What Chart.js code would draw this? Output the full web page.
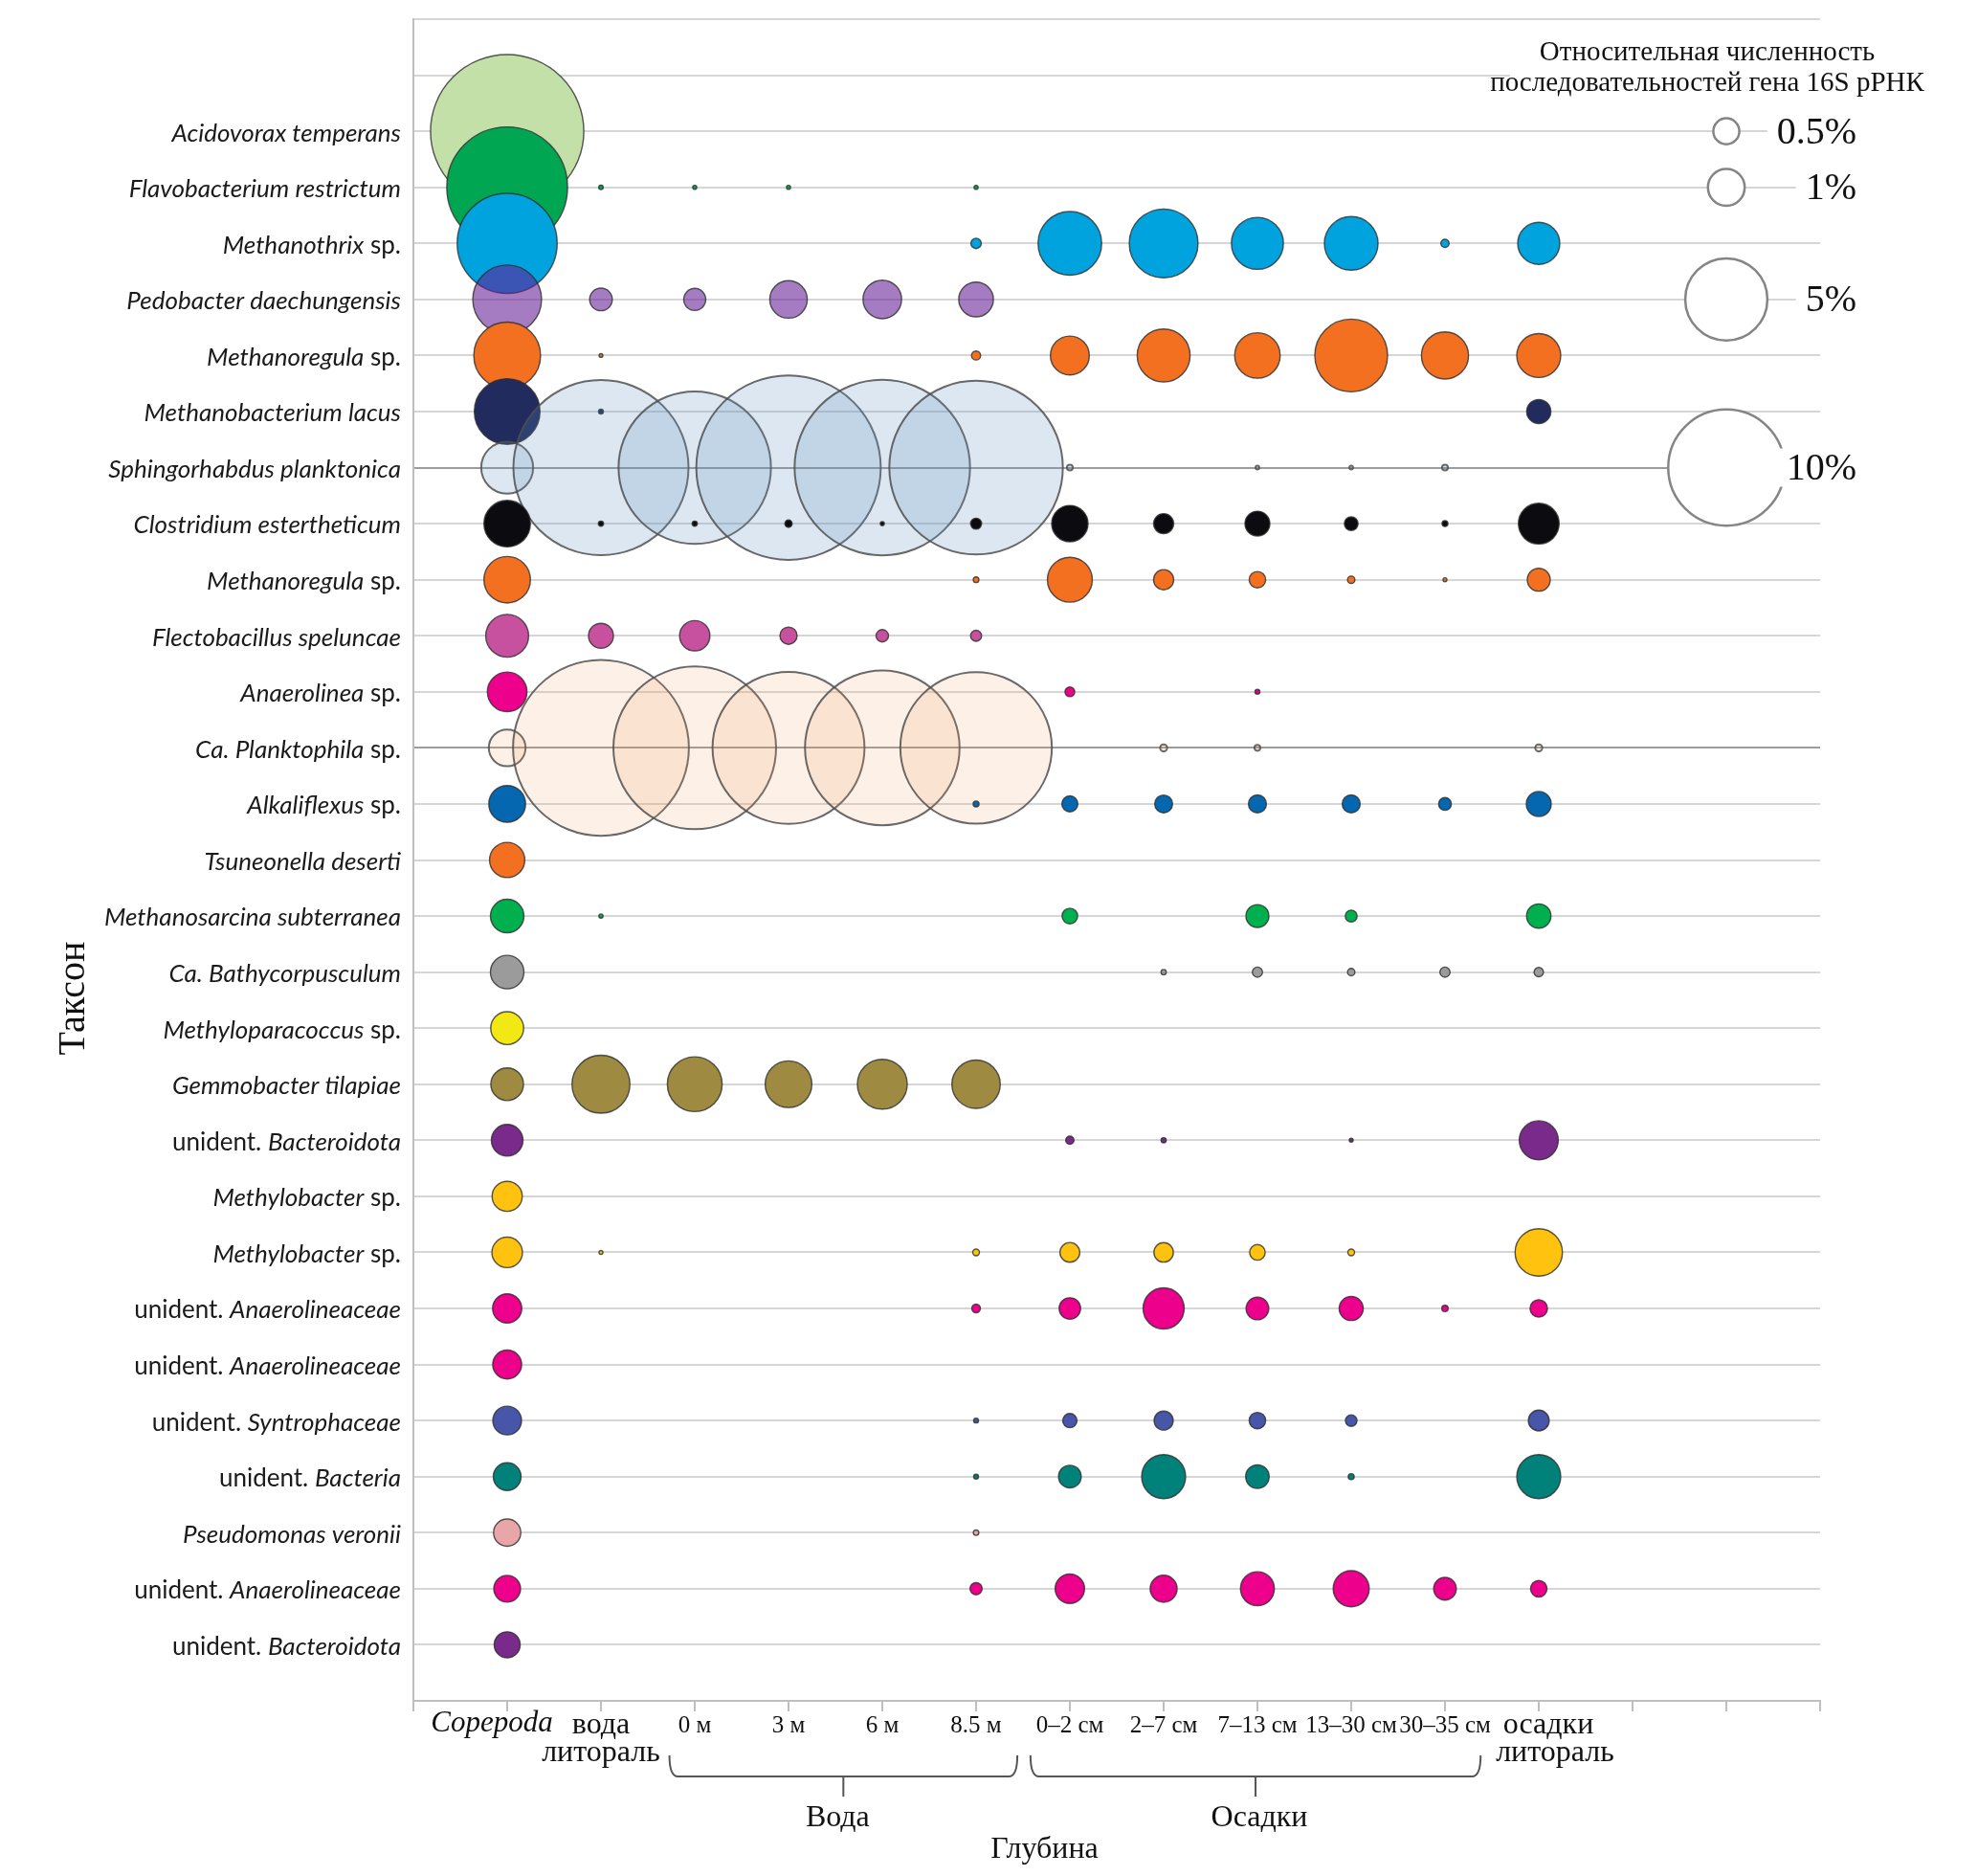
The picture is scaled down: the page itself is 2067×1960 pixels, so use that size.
<!DOCTYPE html>
<html><head><meta charset="utf-8">
<script src="https://cdn.jsdelivr.net/npm/chart.js@4.4.1/dist/chart.umd.min.js"></script>
<style>html,body{margin:0;padding:0;background:#fff}canvas{display:block}</style>
</head><body>
<canvas id="c" width="2067" height="1960" style="width:2067px;height:1960px"></canvas>
<script>
// ---------- DATA ----------
const columns = ['Copepoda', 'вода литораль', '0 м', '3 м', '6 м', '8.5 м',
  '0–2 см', '2–7 см', '7–13 см', '13–30 см', '30–35 см', 'осадки литораль'];

const taxa = [
  'Acidovorax temperans', 'Flavobacterium restrictum', 'Methanothrix sp.', 'Pedobacter daechungensis',
  'Methanoregula sp.', 'Methanobacterium lacus', 'Sphingorhabdus planktonica', 'Clostridium estertheticum',
  'Methanoregula sp.', 'Flectobacillus speluncae', 'Anaerolinea sp.', 'Ca. Planktophila sp.',
  'Alkaliflexus sp.', 'Tsuneonella deserti', 'Methanosarcina subterranea', 'Ca. Bathycorpusculum',
  'Methyloparacoccus sp.', 'Gemmobacter tilapiae', 'unident. Bacteroidota', 'Methylobacter sp.',
  'Methylobacter sp.', 'unident. Anaerolineaceae', 'unident. Anaerolineaceae', 'unident. Syntrophaceae',
  'unident. Bacteria', 'Pseudomonas veronii', 'unident. Anaerolineaceae', 'unident. Bacteroidota'
];

// relative abundance, % (columns in the order above; 0 = absent)
const acidovoraxTemperans      = [17.4, 0, 0, 0, 0, 0, 0, 0, 0, 0, 0, 0];
const flavobacteriumRestrictum = [10.8, 0.015, 0.012, 0.012, 0, 0.012, 0, 0, 0, 0, 0, 0];
const methanothrix             = [7.4, 0, 0, 0, 0, 0.08, 3.0, 3.5, 2.0, 2.13, 0.05, 1.31];
const pedobacterDaechungensis  = [3.5, 0.38, 0.36, 1.04, 1.1, 0.89, 0, 0, 0, 0, 0, 0];
const methanoregulaA           = [3.3, 0.01, 0, 0, 0, 0.06, 1.12, 2.07, 1.53, 3.92, 1.64, 1.43];
const methanobacteriumLacus    = [3.2, 0.017, 0, 0, 0, 0, 0, 0, 0, 0, 0, 0.43];
const sphingorhabdusPlanktonica= [2.0, 22.7, 17.2, 25.2, 22.8, 22.3, 0.025, 0, 0.01, 0.01, 0.025, 0];
const clostridiumEstertheticum = [1.6, 0.02, 0.02, 0.04, 0.012, 0.09, 0.98, 0.30, 0.46, 0.14, 0.025, 1.23];
const methanoregulaB           = [1.6, 0, 0, 0, 0, 0.023, 1.49, 0.30, 0.20, 0.04, 0.011, 0.39];
const flectobacillusSpeluncae  = [1.36, 0.46, 0.68, 0.22, 0.115, 0.09, 0, 0, 0, 0, 0, 0];
const anaerolinea              = [1.16, 0, 0, 0, 0, 0, 0.07, 0, 0.017, 0, 0, 0];
const planktophila             = [1.0, 22.9, 19.6, 17.1, 17.7, 17.0, 0, 0.037, 0.025, 0, 0, 0.037];
const alkaliflexus             = [1.0, 0, 0, 0, 0, 0.025, 0.19, 0.235, 0.24, 0.24, 0.12, 0.46];
const tsuneonellaDeserti       = [0.92, 0, 0, 0, 0, 0, 0, 0, 0, 0, 0, 0];
const methanosarcinaSubterranea= [0.83, 0.013, 0, 0, 0, 0, 0.18, 0, 0.39, 0.105, 0, 0.44];
const bathycorpusculum         = [0.83, 0, 0, 0, 0, 0, 0, 0.02, 0.076, 0.04, 0.076, 0.065];
const methyloparacoccus        = [0.8, 0, 0, 0, 0, 0, 0, 0, 0, 0, 0, 0];
const gemmobacterTilapiae      = [0.79, 2.48, 2.22, 1.61, 1.84, 1.73, 0, 0, 0, 0, 0, 0];
const bacteroidotaA            = [0.74, 0, 0, 0, 0, 0, 0.05, 0.02, 0, 0.011, 0, 1.13];
const methylobacterA           = [0.67, 0, 0, 0, 0, 0, 0, 0, 0, 0, 0, 0];
const methylobacterB           = [0.69, 0.011, 0, 0, 0, 0.033, 0.29, 0.28, 0.18, 0.033, 0, 1.66];
const anaerolineaceaeA         = [0.63, 0, 0, 0, 0, 0.055, 0.34, 1.25, 0.38, 0.43, 0.03, 0.225];
const anaerolineaceaeB         = [0.62, 0, 0, 0, 0, 0, 0, 0, 0, 0, 0, 0];
const syntrophaceae            = [0.61, 0, 0, 0, 0, 0.017, 0.15, 0.27, 0.2, 0.098, 0, 0.32];
const bacteria                 = [0.57, 0, 0, 0, 0, 0.017, 0.38, 1.43, 0.41, 0.026, 0, 1.43];
const pseudomonasVeronii       = [0.55, 0, 0, 0, 0, 0.022, 0, 0, 0, 0, 0, 0];
const anaerolineaceaeC         = [0.53, 0, 0, 0, 0, 0.11, 0.64, 0.54, 0.85, 0.96, 0.38, 0.2];
const bacteroidotaB            = [0.5, 0, 0, 0, 0, 0, 0, 0, 0, 0, 0, 0];

const rowValues = [acidovoraxTemperans, flavobacteriumRestrictum, methanothrix, pedobacterDaechungensis,
  methanoregulaA, methanobacteriumLacus, sphingorhabdusPlanktonica, clostridiumEstertheticum,
  methanoregulaB, flectobacillusSpeluncae, anaerolinea, planktophila, alkaliflexus, tsuneonellaDeserti,
  methanosarcinaSubterranea, bathycorpusculum, methyloparacoccus, gemmobacterTilapiae, bacteroidotaA,
  methylobacterA, methylobacterB, anaerolineaceaeA, anaerolineaceaeB, syntrophaceae, bacteria,
  pseudomonasVeronii, anaerolineaceaeC, bacteroidotaB];

const legendSizes  = [0.5, 1, 5, 10];
const legendLabels = ['0.5%', '1%', '5%', '10%'];

// ---------- STYLE ----------
const rowFill = ['#C3E0A9', '#00A651', '#00A3DD', 'rgba(100,30,150,0.58)', '#F37021', '#222B5E',
  'rgba(96,146,191,0.22)', '#0B0B10', '#F37021', '#C8519F', '#EC008C', 'rgba(242,155,88,0.15)',
  '#0467AF', '#F37021', '#00B04F', '#9B9B9B', '#F2E914', '#9E8A40', '#7A2A8A', '#FFC20F', '#FFC20F',
  '#EC008C', '#EC008C', '#4856AA', '#00827B', '#E9A6A8', '#EC008C', '#7A2A8A'];
const translucentRows = ['Sphingorhabdus planktonica', 'Ca. Planktophila sp.'];
const legendRowsY = [28, 27, 25, 22];
const K = 19.2; // bubble radius (px) for 1 %
const N = taxa.length;

const SERIF = '"Liberation Serif", "Times New Roman", serif';
const SANS = 'Lato, Carlito, "Open Sans", sans-serif';

const datasets = rowValues.map((vals, i) => {
  const translucent = translucentRows.includes(taxa[i]);
  return {
    label: taxa[i],
    data: vals.map((v, j) => v > 0 ? {x: j + 1, y: N - i, r: K * Math.sqrt(v)} : null).filter(Boolean),
    backgroundColor: rowFill[i],
    borderColor: translucent ? 'rgba(80,80,80,0.85)' : 'rgba(45,45,45,0.8)',
    borderWidth: translucent ? 2 : 1.4,
    order: 100 - i,
    clip: false
  };
});
datasets.push({
  label: 'legend',
  data: legendSizes.map((v, k) => ({x: 14, y: legendRowsY[k], r: K * Math.sqrt(v)})),
  backgroundColor: '#FFFFFF', borderColor: '#858585', borderWidth: 2.5, order: 0, clip: false
});

const darkRows = taxa.map((t, i) => translucentRows.includes(t) ? N - i : null).filter(v => v !== null);

function splitName(name) {
  if (name.startsWith('unident. ')) return [{t: 'unident. ', it: false}, {t: name.slice(9), it: true}];
  if (name.endsWith(' sp.')) return [{t: name.slice(0, -4), it: true}, {t: ' sp.', it: false}];
  return [{t: name, it: true}];
}

const annot = {
  id: 'annot',
  afterDatasetsDraw(chart) {
    const ctx = chart.ctx, xs = chart.scales.x, ys = chart.scales.y;
    ctx.save();
    // legend title box
    ctx.fillStyle = '#fff';
    ctx.fillRect(1578, 30, 480, 70);
    ctx.fillStyle = '#111';
    ctx.font = '29px ' + SERIF;
    ctx.textAlign = 'center'; ctx.textBaseline = 'middle';
    ctx.fillText('Относительная численность', 1784, 55);
    ctx.fillText('последовательностей гена 16S рРНК', 1784, 87);
    // legend labels
    ctx.font = '40px ' + SERIF;
    ctx.textAlign = 'right';
    const right = xs.getPixelForValue(14) + 136;
    legendLabels.forEach((lab, k) => {
      const y = ys.getPixelForValue(legendRowsY[k]);
      const w = ctx.measureText(lab).width;
      ctx.fillStyle = '#fff';
      ctx.fillRect(right - w - 10, y - 20, w + 14, 40);
      ctx.fillStyle = '#111';
      ctx.fillText(lab, right, y + 2);
    });
    ctx.restore();
  },
  afterDraw(chart) {
    const ctx = chart.ctx, xs = chart.scales.x, ys = chart.scales.y, ca = chart.chartArea;
    ctx.save();
    // y labels
    ctx.fillStyle = '#1a1a1a';
    ctx.textBaseline = 'middle'; ctx.textAlign = 'left';
    const IT = 'italic 26px ' + SANS, RG = '26px ' + SANS;
    taxa.forEach((name, i) => {
      const y = ys.getPixelForValue(N - i) + 2;
      const parts = splitName(name);
      let total = 0;
      parts.forEach(p => { ctx.font = p.it ? IT : RG; p.w = ctx.measureText(p.t).width; total += p.w; });
      let x = ca.left - 13 - total;
      parts.forEach(p => { ctx.font = p.it ? IT : RG; ctx.fillText(p.t, x, y); x += p.w; });
    });
    // x labels
    ctx.fillStyle = '#111';
    ctx.textAlign = 'center';
    const small = '25px ' + SERIF, big = '32px ' + SERIF;
    columns.forEach((lab, j) => {
      const x = xs.getPixelForValue(j + 1);
      if (j === 0) { ctx.font = 'italic 31px ' + SERIF; ctx.fillText(lab, x - 16, 1801); }
      else if (j === 1) { ctx.font = big; const p = lab.split(' '); ctx.fillText(p[0], x, 1803); ctx.fillText(p[1], x, 1832); }
      else if (j === 11) { ctx.font = big; const p = lab.split(' '); ctx.fillText(p[0], x + 10, 1803); ctx.fillText(p[1], x + 17, 1832); }
      else { ctx.font = small; ctx.fillText(lab, x, 1803); }
    });
    // brackets
    ctx.strokeStyle = '#555'; ctx.lineWidth = 2;
    function bracket(a, b) {
      const L = xs.getPixelForValue(a), R = xs.getPixelForValue(b), M = (L + R) / 2;
      ctx.beginPath();
      ctx.moveTo(L, 1834); ctx.quadraticCurveTo(L, 1856, L + 9, 1856);
      ctx.lineTo(R - 9, 1856); ctx.quadraticCurveTo(R, 1856, R, 1834);
      ctx.moveTo(M, 1856); ctx.lineTo(M, 1877);
      ctx.stroke();
      return M;
    }
    const m1 = bracket(2.73, 6.44), m2 = bracket(6.58, 11.38);
    ctx.font = big;
    ctx.fillText('Вода', m1 - 6, 1900);
    ctx.fillText('Осадки', m2 + 4, 1900);
    ctx.fillText('Глубина', xs.getPixelForValue(6.73), 1933);
    // y title
    ctx.save();
    ctx.translate(77, 1043); ctx.rotate(-Math.PI / 2);
    ctx.font = '40px ' + SERIF;
    ctx.fillText('Таксон', 0, 0);
    ctx.restore();
    ctx.restore();
  }
};

new Chart(document.getElementById('c'), {
  type: 'bubble',
  data: {datasets},
  options: {
    responsive: false, animation: false, events: [], devicePixelRatio: 1,
    layout: {autoPadding: false, padding: {left: 432, right: 165, top: 20, bottom: 172}},
    plugins: {legend: {display: false}, tooltip: {enabled: false}},
    scales: {
      x: {
        type: 'linear', min: 0, max: 15,
        ticks: {display: false, stepSize: 1},
        grid: {drawOnChartArea: false, drawTicks: true, tickLength: 11, color: '#BFBFBF', lineWidth: 2},
        border: {display: true, color: '#BFBFBF', width: 2},
        afterFit: s => { s.height = 11; }
      },
      y: {
        type: 'linear', min: 0, max: 30,
        ticks: {display: false, stepSize: 1},
        grid: {
          drawTicks: false, lineWidth: 2,
          color: c => {
            const v = c.tick ? c.tick.value : -1;
            if (v === 0) return '#BFBFBF';
            if (darkRows.includes(v)) return '#9C9C9C';
            return '#D6D6D6';
          }
        },
        border: {display: true, color: '#BFBFBF', width: 2},
        afterFit: s => { s.width = 0; }
      }
    }
  },
  plugins: [annot]
});
</script>
</body></html>
